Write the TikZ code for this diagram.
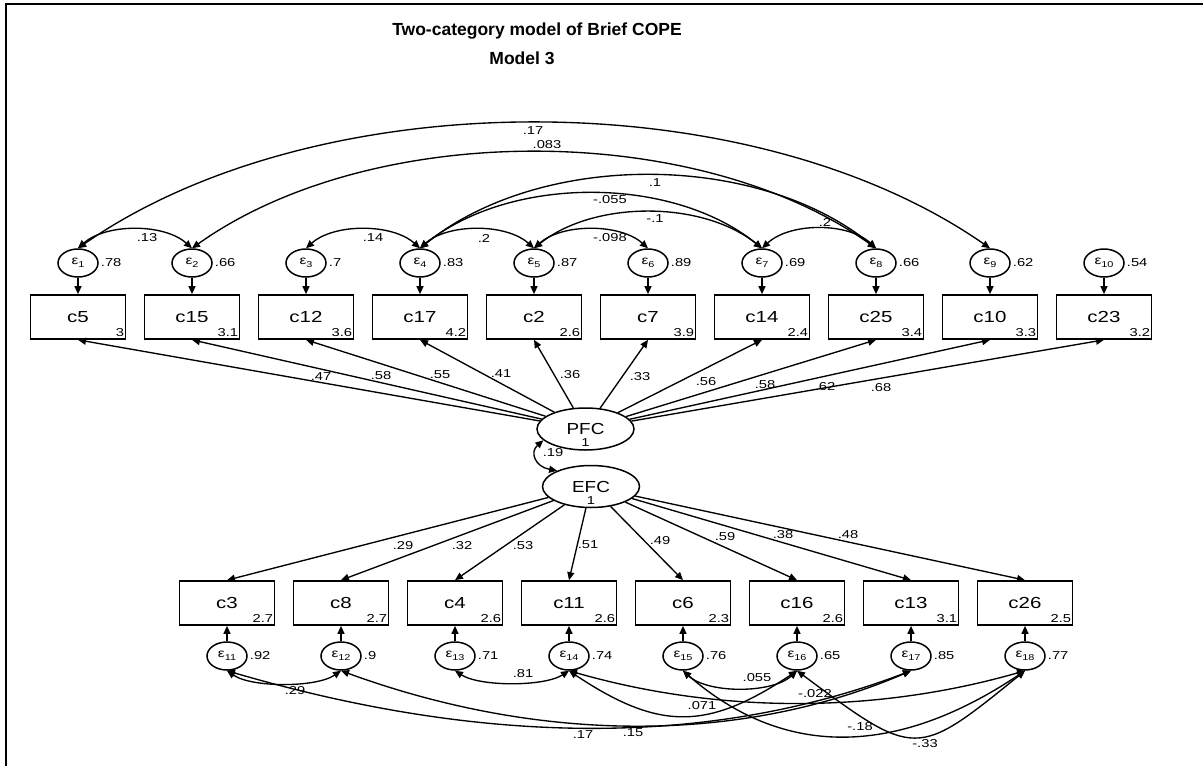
\documentclass[tikz,border=0pt]{standalone}
\usepackage{fontspec}
\setmainfont{Liberation Sans}
\newfontfamily\widesans{Liberation Sans}[FakeStretch=1.28]
\newfontfamily\midsans{Liberation Sans}[FakeStretch=1.18]
\usetikzlibrary{arrows.meta,shapes.geometric}

\newcommand\fsz[1]{\fontsize{#1}{#1}\selectfont}
% observed indicator: name, x, y, label, intercept
\newcommand\obsnode[5]{%
  \node[obs] (#1) at (#2,#3) {#4};
  \node[num, anchor=south east] at ([xshift=-2pt,yshift=3pt]#1.south east) {#5};}
% error term: name, x, y, index, variance
\newcommand\errnode[5]{%
  \node[err] (#1) at (#2,#3) {ε\raisebox{-2.5pt}{\fsz{8.5}#4}};
  \node[num, anchor=west] at ([xshift=2pt]#1.east) {#5};}

\begin{document}
\begin{tikzpicture}[x=1pt,y=-1pt,
  >={Triangle[length=8pt,width=7pt]},
  obs/.style={draw, line width=1.7pt, rectangle, minimum width=95pt,
              minimum height=44pt, inner sep=0pt, font=\widesans\fsz{16}},
  err/.style={draw, line width=1.5pt, ellipse, minimum width=40pt,
              minimum height=28pt, inner sep=0pt, font=\widesans\fsz{12}},
  latent/.style={draw, line width=1.5pt, ellipse, minimum width=97pt,
              minimum height=42pt, inner sep=0pt},
  num/.style={inner sep=0pt, font=\widesans\fsz{11.5}},
  lname/.style={inner sep=0pt, font=\midsans\fsz{16}},
  load/.style={->, line width=1.35pt},
  cov/.style={<->, line width=1.35pt},
  ttl/.style={inner sep=0pt, font=\bfseries\fsz{17.5}}]

\useasboundingbox (0,0) rectangle (1203,766);
\draw[line width=2.6pt] (6,766) -- (6,4) -- (1203,4);

\node[ttl] (title) at (537,31) {Two-category model of Brief COPE};
\node[ttl] (subtitle) at (522,58) {Model 3};

% upper indicators and their errors
\obsnode{c5}{78}{317}{c5}{3}
\obsnode{c15}{192}{317}{c15}{3.1}
\obsnode{c12}{306}{317}{c12}{3.6}
\obsnode{c17}{420}{317}{c17}{4.2}
\obsnode{c2}{534}{317}{c2}{2.6}
\obsnode{c7}{648}{317}{c7}{3.9}
\obsnode{c14}{762}{317}{c14}{2.4}
\obsnode{c25}{876}{317}{c25}{3.4}
\obsnode{c10}{990}{317}{c10}{3.3}
\obsnode{c23}{1104}{317}{c23}{3.2}

\errnode{e1}{78}{263}{1}{.78}
\errnode{e2}{192}{263}{2}{.66}
\errnode{e3}{306}{263}{3}{.7}
\errnode{e4}{420}{263}{4}{.83}
\errnode{e5}{534}{263}{5}{.87}
\errnode{e6}{648}{263}{6}{.89}
\errnode{e7}{762}{263}{7}{.69}
\errnode{e8}{876}{263}{8}{.66}
\errnode{e9}{990}{263}{9}{.62}
\errnode{e10}{1104}{263}{10}{.54}

% lower indicators and their errors
\obsnode{c3}{227}{603}{c3}{2.7}
\obsnode{c8}{341}{603}{c8}{2.7}
\obsnode{c4}{455}{603}{c4}{2.6}
\obsnode{c11}{569}{603}{c11}{2.6}
\obsnode{c6}{683}{603}{c6}{2.3}
\obsnode{c16}{797}{603}{c16}{2.6}
\obsnode{c13}{911}{603}{c13}{3.1}
\obsnode{c26}{1025}{603}{c26}{2.5}

\errnode{e11}{227}{656}{11}{.92}
\errnode{e12}{341}{656}{12}{.9}
\errnode{e13}{455}{656}{13}{.71}
\errnode{e14}{569}{656}{14}{.74}
\errnode{e15}{683}{656}{15}{.76}
\errnode{e16}{797}{656}{16}{.65}
\errnode{e17}{911}{656}{17}{.85}
\errnode{e18}{1025}{656}{18}{.77}

% latent factors
\node[latent] (pfc) at (585.5,429) {};
\node[lname] (pfcname) at (585.5,429) {PFC};
\node[num] (pfcvar) at (585.5,443) {1};
\node[latent] (efc) at (591,486.5) {};
\node[lname] (efcname) at (591,486.5) {EFC};
\node[num] (efcvar) at (591,500.5) {1};

% error paths
\foreach \e/\c in {e1/c5,e2/c15,e3/c12,e4/c17,e5/c2,e6/c7,e7/c14,e8/c25,e9/c10,e10/c23,
                   e11/c3,e12/c8,e13/c4,e14/c11,e15/c6,e16/c16,e17/c13,e18/c26}
  \draw[load] (\e) -- (\c);

% loadings
\foreach \c in {c5,c15,c12,c17,c2,c7,c14,c25,c10,c23}
  \draw[load] (pfc) -- (\c.south);
\foreach \c in {c3,c8,c4,c11,c6,c16,c13,c26}
  \draw[load] (efc) -- (\c.north);

\node[num] at (321,377) {.47};
\node[num] at (381,376) {.58};
\node[num] at (440,375) {.55};
\node[num] at (501,374) {.41};
\node[num] at (570,375) {.36};
\node[num] at (640,377) {.33};
\node[num] at (706,382) {.56};
\node[num] at (765,385) {.58};
\node[num] at (825,387) {.62};
\node[num] at (881,388) {.68};

\node[num] at (403,546) {.29};
\node[num] at (462,546) {.32};
\node[num] at (523,546) {.53};
\node[num] at (588,545) {.51};
\node[num] at (660,541) {.49};
\node[num] at (725,537) {.59};
\node[num] at (783,535) {.38};
\node[num] at (848,535) {.48};

% factor covariance
\draw[cov] (pfc.195) .. controls +(-14,12) and +(-22,-4) .. (efc.155);
\node[num] at (553,453) {.19};

% upper error covariances
\draw[cov] (e1.north) .. controls +(240,-167) and +(-240,-167) .. (e9.north);
\draw[cov] (e2.north) .. controls +(180,-128) and +(-180,-128) .. (e8.north);
\draw[cov] (e4.north) .. controls +(120,-97) and +(-120,-97) .. (e8.north);
\draw[cov] (e4.north) .. controls +(90,-73) and +(-90,-73) .. (e7.north);
\draw[cov] (e5.north) .. controls +(60,-48) and +(-60,-48) .. (e7.north);
\draw[cov] (e1.north) .. controls +(28,-25) and +(-28,-25) .. (e2.north);
\draw[cov] (e3.north) .. controls +(28,-25) and +(-28,-25) .. (e4.north);
\draw[cov] (e4.north) .. controls +(28,-25) and +(-28,-25) .. (e5.north);
\draw[cov] (e5.north) .. controls +(28,-25) and +(-28,-25) .. (e6.north);
\draw[cov] (e7.north) .. controls +(28,-26) and +(-28,-26) .. (e8.north);

\node[num] at (533,131) {.17};
\node[num] at (547,145) {.083};
\node[num] at (655,183) {.1};
\node[num] at (610,200) {-.055};
\node[num] at (655,219) {-.1};
\node[num] at (825,222) {.2};
\node[num] at (147,238) {.13};
\node[num] at (373,238) {.14};
\node[num] at (484,238) {.2};
\node[num] at (610,238) {-.098};

% lower error covariances
\draw[cov] (e11.south) .. controls +(25,17) and +(-25,17) .. (e12.south);
\draw[cov] (e13.south) .. controls +(25,16) and +(-25,16) .. (e14.south);
\draw[cov] (e15.south) .. controls +(25,23) and +(-25,23) .. (e16.south);
\draw[cov] (e14.south) .. controls +(90,60) and +(-90,60) .. (e16.south);
\draw[cov] (e14.south) .. controls +(150,43) and +(-150,43) .. (e18.south);
\draw[cov] (e11.south) .. controls +(260,76) and +(-200,76) .. (e17.south);
\draw[cov] (e12.south) .. controls +(200,73) and +(-170,73) .. (e17.south);
\draw[cov] (e15.south) .. controls +(100,87) and +(-130,87) .. (e18.south);
\draw[cov] (e16.south) .. controls (916,759) .. (e18.south);

\node[num] at (295,691) {.29};
\node[num] at (523,674) {.81};
\node[num] at (757,678) {.055};
\node[num] at (702,706) {.071};
\node[num] at (815,694) {-.022};
\node[num] at (583,735) {.17};
\node[num] at (633,733) {.15};
\node[num] at (860,727) {-.18};
\node[num] at (925,744) {-.33};

\end{tikzpicture}
\end{document}
